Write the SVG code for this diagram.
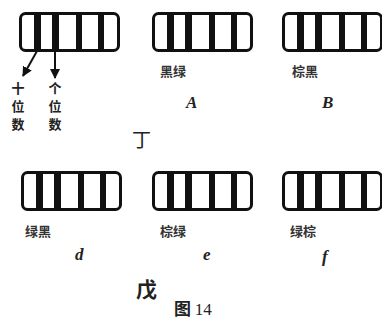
<svg xmlns="http://www.w3.org/2000/svg" width="382" height="320" viewBox="0 0 382 320">
<style>
.box{fill:#fff;stroke:#111;stroke-width:3}
.band{fill:#111}
.cn{font-family:"Noto Sans CJK SC","Noto Sans",sans-serif;fill:#222}
.lbl{font-size:13px;font-weight:bold;fill:#333}
.v{font-size:13px;font-weight:bold}
.it{font-family:"Liberation Serif",serif;font-style:italic;font-weight:bold;font-size:17px;fill:#222}
.conn{stroke:#111;stroke-width:2;fill:none}
</style>
<defs>
<g id="res">
<rect class="box" x="1.5" y="1.5" width="98" height="37" rx="5"/>
<rect class="band" x="15" y="1.5" width="7" height="37"/>
<rect class="band" x="33" y="1.5" width="7" height="37"/>
<rect class="band" x="57" y="1.5" width="6" height="37"/>
<rect class="band" x="79" y="1.5" width="6" height="37"/>
</g>
<marker id="ah" viewBox="0 0 10 10" refX="9" refY="5" markerWidth="5" markerHeight="5" orient="auto">
<path d="M0,0 L10,5 L0,10 z" fill="#111"/>
</marker>
</defs>
<g id="r0"><use href="#res" x="19" y="12"/></g>
<g id="rA"><use href="#res" x="152" y="12"/>
<text class="cn lbl" x="160" y="76">黑绿</text><text class="it" x="186" y="108">A</text></g>
<g id="rB"><use href="#res" x="282" y="12"/>
<text class="cn lbl" x="292" y="76">棕黑</text><text class="it" x="322" y="108">B</text></g>
<g id="rd"><use href="#res" x="21" y="171"/>
<text class="cn lbl" x="25" y="236">绿黑</text><text class="it" x="75" y="260">d</text></g>
<g id="re"><use href="#res" x="152" y="171"/>
<text class="cn lbl" x="160" y="236">棕绿</text><text class="it" x="203" y="260">e</text></g>
<g id="rf"><use href="#res" x="282" y="171"/>
<text class="cn lbl" x="290" y="236">绿棕</text><text class="it" x="322" y="262">f</text></g>
<g id="connectors">
<line class="conn" x1="37" y1="51" x2="23" y2="76" marker-end="url(#ah)"/>
<line class="conn" x1="55" y1="51" x2="55" y2="78" marker-end="url(#ah)"/>
</g>
<g id="labels">
<text class="cn v" x="18" y="93" text-anchor="middle">十</text>
<text class="cn v" x="18" y="111" text-anchor="middle">位</text>
<text class="cn v" x="18" y="129" text-anchor="middle">数</text>
<text class="cn v" x="55" y="93" text-anchor="middle">个</text>
<text class="cn v" x="55" y="111" text-anchor="middle">位</text>
<text class="cn v" x="55" y="129" text-anchor="middle">数</text>
<text class="cn" font-size="19" x="132" y="147">丁</text>
<text class="cn" font-size="21" font-weight="bold" x="136" y="297">戊</text>
<text class="cn" font-size="17" font-weight="bold" x="174" y="315">图 <tspan font-family="Liberation Serif,serif" font-weight="normal">14</tspan></text>
</g>
</svg>
